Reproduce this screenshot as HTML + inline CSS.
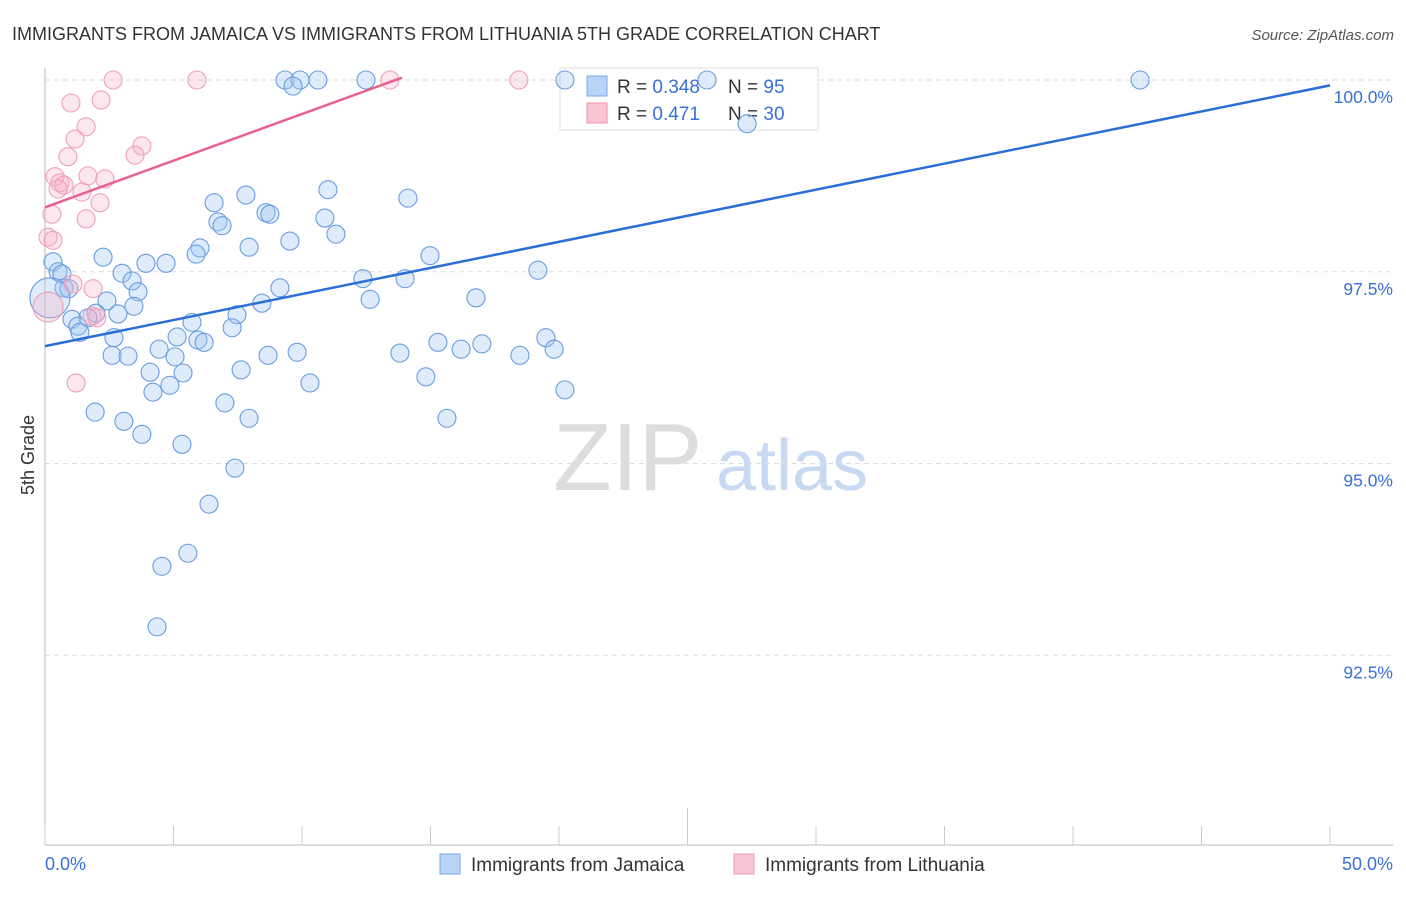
<!DOCTYPE html>
<html><head><meta charset="utf-8"><style>
body{margin:0;background:#fff;font-family:"Liberation Sans",sans-serif;}
svg text{font-family:"Liberation Sans",sans-serif;}
</style></head><body>
<svg id="chart" width="1406" height="892" viewBox="0 0 1406 892">
<text x="12" y="40" font-size="18" fill="#333">IMMIGRANTS FROM JAMAICA VS IMMIGRANTS FROM LITHUANIA 5TH GRADE CORRELATION CHART</text>
<text x="1394" y="40" font-size="15" fill="#555" font-style="italic" text-anchor="end">Source: ZipAtlas.com</text>
<text x="34" y="455" font-size="18" fill="#333" transform="rotate(-90 34 455)" text-anchor="middle">5th Grade</text>
<g>
<text x="553" y="490" font-size="96" fill="#ddd" font-family="Liberation Serif">ZIP</text>
<text x="716" y="490" font-size="72" fill="#c8daf2">atlas</text>
</g>
<g id="grid"></g><g id="axes"></g>
<g>
<rect x="560" y="68" width="258" height="62" fill="#fff" stroke="#ddd"/>
<rect x="587" y="76" width="20" height="20" fill="#b8d3f5" stroke="#7aa7e3"/>
<text x="617" y="93" font-size="19" fill="#333">R = <tspan fill="#3a6fd8">0.348</tspan>  <tspan x="728">N = </tspan><tspan fill="#3a6fd8">95</tspan></text>
<rect x="587" y="103" width="20" height="20" fill="#f9c5d4" stroke="#ee93ad"/>
<text x="617" y="120" font-size="19" fill="#333">R =  <tspan fill="#3a6fd8">0.471</tspan>  <tspan x="728">N = </tspan><tspan fill="#3a6fd8">30</tspan></text>
</g>
<g id="pts"></g><g id="lines"></g>
<g>
<rect x="440" y="854" width="20" height="20" fill="#b8d3f5" stroke="#7aa7e3"/>
<text x="471" y="871" font-size="19" fill="#333">Immigrants from Jamaica</text>
<rect x="734" y="854" width="20" height="20" fill="#f9c5d4" stroke="#ee93ad"/>
<text x="765" y="871" font-size="19" fill="#333">Immigrants from Lithuania</text>
</g>
</svg>
<script>
const jamX=[42.61,9.34,9.92,10.62,12.49,20.23,25.76,9.65,27.32,7.82,11.01,14.12,6.58,8.60,8.75,6.73,6.89,10.89,11.32,9.53,7.94,6.03,5.88,2.26,3.93,4.71,0.31,14.98,19.18,3.00,3.39,0.51,0.66,12.37,14.01,9.14,3.62,0.74,0.93,2.41,8.44,12.65,16.77,3.46,2.84,7.47,5.72,7.28,1.05,1.98,1.67,1.28,1.36,2.68,5.14,5.95,6.19,15.29,17.00,19.49,4.44,16.19,19.81,13.81,8.68,9.81,2.61,3.23,5.06,18.48,4.09,5.37,7.63,14.82,4.86,10.31,4.20,20.23,7.00,1.95,7.94,15.64,3.07,3.77,5.33,7.39,6.38,5.56,4.55,4.36,0.19];
const jamY=[100,100,100,100,100,100,100,99.92,99.43,98.50,98.57,98.46,98.40,98.27,98.25,98.15,98.10,98.20,97.99,97.90,97.82,97.81,97.73,97.69,97.61,97.61,97.63,97.71,97.52,97.48,97.38,97.50,97.47,97.41,97.41,97.29,97.24,97.29,97.28,97.12,97.09,97.14,97.16,97.05,96.95,96.94,96.84,96.77,96.88,96.96,96.90,96.79,96.71,96.64,96.65,96.61,96.58,96.58,96.56,96.64,96.49,96.49,96.49,96.44,96.41,96.45,96.41,96.40,96.39,96.41,96.19,96.18,96.22,96.13,96.02,96.05,95.93,95.96,95.79,95.67,95.59,95.59,95.55,95.38,95.25,94.94,94.47,93.83,93.66,92.87,97.16];
const litX=[2.65,5.91,13.42,18.44,1.01,2.18,1.60,1.17,3.77,3.50,0.89,0.39,0.58,0.74,0.51,1.67,2.33,1.44,2.14,1.60,0.27,0.12,0.31,1.87,1.09,1.21,1.83,2.02,0.12];
const litY=[100,100,100,100,99.70,99.74,99.39,99.23,99.14,99.02,99.00,98.74,98.66,98.63,98.58,98.75,98.71,98.54,98.40,98.19,98.25,97.95,97.91,97.28,97.34,96.05,96.92,96.90,97.04];
const jamTrendX=[0,50], jamTrendY=[96.53,99.93];
const litTrendX=[0,13.89], litTrendY=[98.34,100.03];
const yTicks=[100,97.5,95,92.5];
const yTickLabels=["100.0%","97.5%","95.0%","92.5%"];
const xTickLabels=["0.0%","50.0%"];
const NS="http://www.w3.org/2000/svg";
const sx=v=>45+v*25.7, sy=v=>80+(100-v)*76.7;
function mk(t,a,p){const e=document.createElementNS(NS,t);for(const k in a)e.setAttribute(k,a[k]);document.getElementById(p).appendChild(e);return e;}
yTicks.forEach((t,i)=>{
 const g=mk('line',{x1:45,x2:1393,y1:sy(t),y2:sy(t),stroke:'#ddd','stroke-dasharray':'5,4'},'grid');
 
 
 const l=mk('text',{x:1393,y:sy(t)+23,'font-size':17.5,fill:'#3a6fd8','text-anchor':'end'},'axes');
 l.textContent=yTickLabels[i];
 
 
});
const ax=mk('line',{x1:45,x2:45,y1:68,y2:845,stroke:'#bbb'},'axes');


const bx=mk('line',{x1:45,x2:1393,y1:845,y2:845,stroke:'#bbb'},'axes');


for(let i=0;i<=10;i++){
 const x=sx(i*5);
 const tk=mk('line',{x1:x,x2:x,y1:i==5?808:826,y2:845,stroke:'#ccc'},'axes');
 
 
}
const xl0=mk('text',{x:45,y:870,'font-size':18,fill:'#3a6fd8'},'axes');xl0.textContent=xTickLabels[0];


const xl1=mk('text',{x:1393,y:870,'font-size':18,fill:'#3a6fd8','text-anchor':'end'},'axes');xl1.textContent=xTickLabels[1];


jamX.forEach((v,i)=>{
 const c=mk('circle',{cx:sx(v),cy:sy(jamY[i]),r:i==jamX.length-1?20:9,fill:'rgba(160,197,242,0.35)',stroke:'#6a9ce2','stroke-width':1.1},'pts');
 
 
});
litX.forEach((v,i)=>{
 const c=mk('circle',{cx:sx(v),cy:sy(litY[i]),r:i==litX.length-1?15:9,fill:'rgba(245,175,198,0.3)',stroke:'#f0a0b8','stroke-width':1.1},'pts');
 
 
});
const t1=mk('line',{x1:sx(jamTrendX[0]),y1:sy(jamTrendY[0]),x2:sx(jamTrendX[1]),y2:sy(jamTrendY[1]),stroke:'#2b6fd6','stroke-width':2.5},'lines');


const t2=mk('line',{x1:sx(litTrendX[0]),y1:sy(litTrendY[0]),x2:sx(litTrendX[1]),y2:sy(litTrendY[1]),stroke:'#e8628b','stroke-width':2.5},'lines');


</script>
</body></html>
